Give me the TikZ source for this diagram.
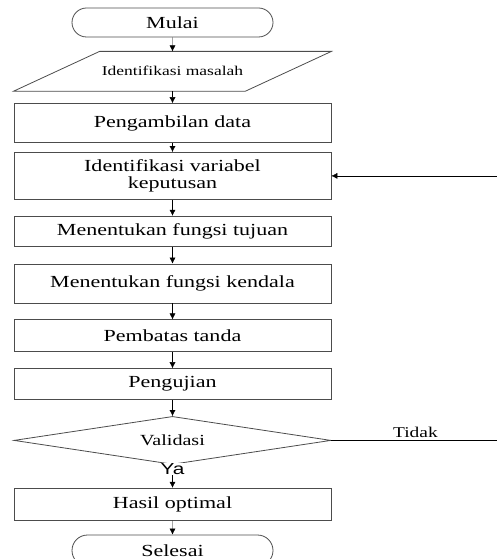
\documentclass[tikz,border=0pt]{standalone}
\usepackage{fontspec}
\setmainfont{Liberation Serif}
\newfontfamily\flowfont[FakeStretch=1.3]{Liberation Serif}
\newfontfamily\flowsans[FakeStretch=1.3]{Liberation Sans}
\usetikzlibrary{shapes.misc}
\usetikzlibrary{shapes.geometric}
\usetikzlibrary{arrows.meta}
\usetikzlibrary{positioning}

\begin{document}
\begin{tikzpicture}[x=1bp,y=1bp,>={Latex[length=6bp,width=6bp]},
			proc/.style={draw=black!70,
				line width=0.8bp,
				rectangle,
				minimum width=317bp,
				inner sep=0pt,
				align=center,
				font=\flowfont\fontsize{17}{17}\selectfont},
			term/.style={proc, rounded rectangle, minimum width=201bp},
			dec/.style={proc, diamond, aspect=6.6, minimum height=48bp}]
			\useasboundingbox (0,0) rectangle (497,-559);
			\node[term, minimum height=29bp] (mulai) at (172.5,-22.5) {Mulai};
			\node[proc, draw=none, minimum height=39bp, below=14bp of mulai,
				font=\flowfont\fontsize{13.5}{14}\selectfont] (masalah) {Identifikasi masalah};
			\draw[black!70, line width=0.8bp] ([xshift=86bp]masalah.north west) -- (masalah.north east)
				-- ([xshift=-86bp]masalah.south east) -- (masalah.south west) -- cycle;
			\node[proc, minimum height=39bp, below=12bp of masalah] (ambil) {Pengambilan data};
			\node[proc, minimum height=47bp, below=9bp of ambil] (variabel) {Identifikasi variabel\\keputusan};
			\node[proc, minimum height=30bp, below=16bp of variabel] (tujuan) {Menentukan fungsi tujuan};
			\node[proc, minimum height=39bp, below=17bp of tujuan] (kendala) {Menentukan fungsi kendala};
			\node[proc, minimum height=32bp, below=16bp of kendala] (tanda) {Pembatas tanda};
			\node[proc, minimum height=31bp, below=16bp of tanda] (uji) {Pengujian};
			\node[dec, below=16bp of uji, font=\flowfont\fontsize{15.5}{16}\selectfont] (validasi) {Validasi};
			\node[proc, minimum height=32bp, below=23bp of validasi] (hasil) {Hasil optimal};
			\node[term, minimum height=31bp, below=14bp of hasil] (selesai) {Selesai};
			\draw[->] (mulai) -- (masalah);
			\draw[->] (masalah) -- (ambil);
			\draw[->] (ambil) -- (variabel);
			\draw[->] (variabel) -- (tujuan);
			\draw[->] (tujuan) -- (kendala);
			\draw[->] (kendala) -- (tanda);
			\draw[->] (tanda) -- (uji);
			\draw[->] (uji) -- (validasi);
			\draw[->] (validasi) -- node[pos=0.2, fill=white, inner sep=0.5bp, font=\flowsans\fontsize{16}{16}\selectfont]{Ya} (hasil);
			\draw[->] (hasil) -- (selesai);
			\draw[->] (validasi.east) -- node[above, inner sep=3bp, font=\flowfont\fontsize{15}{15}\selectfont]{Tidak} ++(168,0) |- (variabel.east);
		\end{tikzpicture}
\end{document}
